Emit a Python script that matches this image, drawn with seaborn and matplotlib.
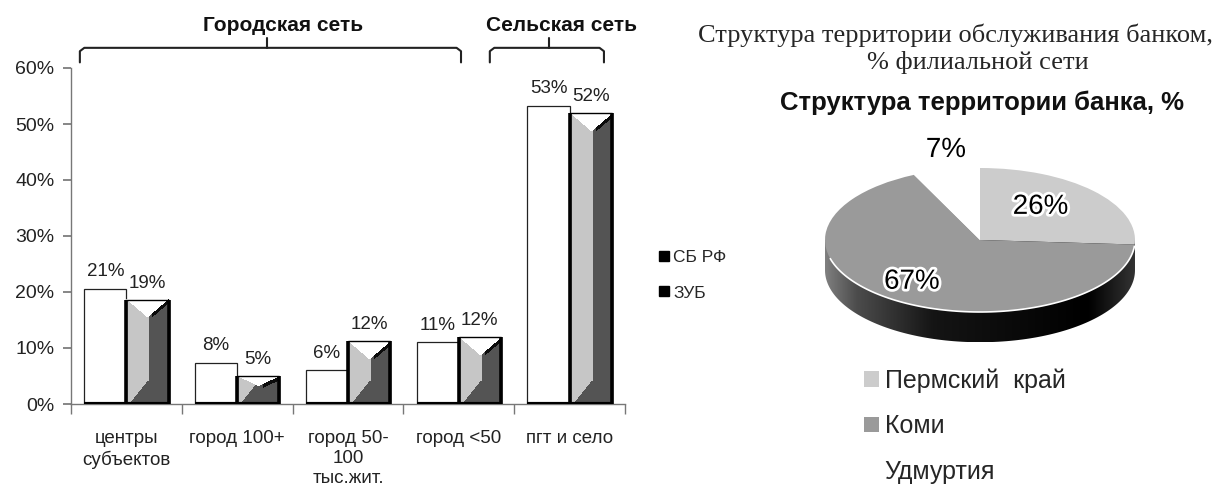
import numpy as np
import pandas as pd
import matplotlib
matplotlib.use("Agg")
import matplotlib.pyplot as plt
import seaborn as sns
from matplotlib.lines import Line2D
from matplotlib.patches import PathPatch
from matplotlib.path import Path
import matplotlib.patheffects as pe

# bar chart data
categories = ["центры\nсубъектов", "город 100+", "город 50-\n100\nтыс.жит.", "город <50", "пгт и село"]
series = ["СБ РФ", "ЗУБ"]
sb_rf = [20.6, 7.4, 6.1, 11.0, 53.3]
zub = [18.6, 5.0, 11.2, 11.9, 51.9]
sb_rf_labels = ["21%", "8%", "6%", "11%", "53%"]
zub_labels = ["19%", "5%", "12%", "12%", "52%"]

# pie data
regions = ["Пермский  край", "Коми", "Удмуртия"]
region_share = [26, 67, 7]
region_labels = ["26%", "67%", "7%"]
region_colors = ["#cccccc", "#9a9a9a", "#ffffff"]

sns.set_theme(style="white")
plt.rcParams["font.family"] = ["Liberation Sans", "DejaVu Sans"]

W, H = 1217, 486
fig = plt.figure(figsize=(W / 100, H / 100), dpi=100)


def box(x0, y0, x1, y1):
    return [x0 / W, 1 - y1 / H, (x1 - x0) / W, (y1 - y0) / H]


# ---- left: bars ----
ax = fig.add_axes(box(71, 68, 625, 404))
df = pd.DataFrame({
    "cat": categories * 2,
    "series": [series[0]] * len(categories) + [series[1]] * len(categories),
    "val": sb_rf + zub,
})
sns.barplot(data=df, x="cat", y="val", hue="series", palette=["white", "white"],
            width=0.76, gap=0, edgecolor="black", linewidth=1, legend=False, ax=ax)
ax.set_xlim(-0.5, len(categories) - 0.5)
ax.set_ylim(0, 60)
fig.canvas.draw()

for bar in ax.containers[0]:
    bar.set_edgecolor("#222222")
    bar.set_linewidth(0.9)

# shaded look for the second series
for bar in ax.containers[1]:
    x, w, h = bar.get_x(), bar.get_width(), bar.get_height()
    (px0, py0), (px1, py1) = ax.transData.transform([(x, 0), (x + w, h)])
    rows, cols = max(int(round(py1 - py0)), 2), max(int(round(px1 - px0)), 2)
    r = np.arange(rows)[:, None] + 0.5
    u = (np.arange(cols)[None, :] + 0.5) / cols
    bd = rows - r
    split = 0.53 - 0.45 * np.clip((24 - bd) / 24, 0, 1)
    img = np.where(u < split, 0.78, 0.33)
    t = min(18, 0.35 * rows)
    vline = t * (1 - 2 * np.abs(u - 0.5))
    img = np.where((u > 0.6) & (r >= vline) & (r < vline + 4), 0.05, img)
    img = np.where(r < vline, 1.0, img)
    ax.imshow(np.dstack([img] * 3), extent=(x, x + w, 0, h), aspect="auto",
              interpolation="nearest", zorder=1.5)
    bar.set_facecolor("none")
    bar.set_zorder(3)
    ax.vlines([x, x + w], 0, h, color="black", lw=2.6, zorder=3.5)

for bar in list(ax.containers[0]) + list(ax.containers[1]):
    ax.hlines(0, bar.get_x(), bar.get_x() + bar.get_width(), color="black", lw=3, zorder=4)

ax.set_xlim(-0.5, len(categories) - 0.5)
ax.set_ylim(0, 60)
ax.bar_label(ax.containers[0], labels=sb_rf_labels, padding=6, fontsize=13.5, color="#222222")
ax.bar_label(ax.containers[1], labels=zub_labels, padding=6, fontsize=13.5, color="#222222")

ax.set_yticks(range(0, 61, 10))
ax.set_yticklabels([f"{v}%" for v in range(0, 61, 10)], fontsize=14, color="#222222")
ax.set_xticks(range(len(categories)))
ax.set_xticklabels(categories, fontsize=13.5, linespacing=1.2, color="#222222")
ax.set_xticks(np.arange(-0.5, len(categories)), minor=True)
ax.tick_params(axis="x", which="major", length=0, pad=19)
ax.tick_params(axis="x", which="minor", length=7, direction="out", color="#777777", bottom=True)
ax.tick_params(axis="y", length=6, direction="out", color="#777777", left=True, pad=6)
ax.set_xlabel("")
ax.set_ylabel("")
for s in ["top", "right"]:
    ax.spines[s].set_visible(False)
for s in ["left", "bottom"]:
    ax.spines[s].set_color("#777777")
    ax.spines[s].set_linewidth(1)


def brace(x0, x1, xc, xt, text):
    kw = dict(color="#222222", lw=1.5, clip_on=False, solid_capstyle="round")
    ax.plot([x0, x0, x0 + 0.04, x1 - 0.04, x1, x1],
            [61.0, 63.0, 63.6, 63.6, 63.0, 61.0], **kw)
    ax.plot([xc, xc], [63.6, 65.4], **kw)
    ax.text(xt, 67.6, text, ha="center", va="center", fontsize=15, weight="bold", color="#111111")


brace(-0.42, 3.02, 1.27, 1.41, "Городская сеть")
brace(3.28, 4.31, 3.81, 3.93, "Сельская сеть")

handles = [Line2D([], [], marker="s", ls="", color="black", markersize=7) for _ in series]
fig.legend(handles, series, loc="center left", bbox_to_anchor=(641 / W, 1 - 275 / H),
           frameon=False, fontsize=12.5, handletextpad=0.05, labelspacing=1.2, handlelength=0.9)

# ---- right: pie ----
pax = fig.add_axes(box(825, 168, 1135, 348))
d = 0.42
grad_u = np.linspace(0, 1, 300)
grad = np.interp(grad_u, [0, 0.1, 0.35, 0.85, 1], [0.5, 0.3, 0.08, 0.0, 0.2])
side = pax.imshow(np.dstack([np.tile(grad, (10, 1))] * 3), extent=(-1, 1, -1 - d, 0),
                  aspect="auto", zorder=1)
th = np.linspace(np.pi, 2 * np.pi, 120)
verts = np.column_stack([np.cos(th), np.sin(th) - d])
verts = np.vstack([verts, [[1, 0], [-1, 0], [-1, -d]]])
clip = PathPatch(Path(verts), transform=pax.transData, facecolor="none", edgecolor="none")
pax.add_patch(clip)
side.set_clip_path(clip)

wedges, _ = pax.pie(region_share, colors=region_colors, startangle=90, counterclock=False,
                    radius=1, wedgeprops=dict(linewidth=0))
for wd in wedges:
    wd.set_zorder(2)
th = np.linspace(np.radians(195), np.radians(355), 100)
pax.plot(np.cos(th), np.sin(th), color="white", lw=1.2, zorder=2.5)
pax.set_aspect("auto")
pax.set_xlim(-1, 1)
pax.set_ylim(-1 - d - 0.08, 1)
pax.axis("off")

label_pos = [(0.39, 0.46), (-0.44, -0.58), (-0.22, 1.25)]
for (lx, ly), txt in zip(label_pos, region_labels):
    pax.text(lx, ly, txt, ha="center", va="center", fontsize=20, color="black", zorder=5,
             path_effects=[pe.withStroke(linewidth=4, foreground="white")], clip_on=False)

fig.legend(wedges, regions, loc="upper left", bbox_to_anchor=(841 / W, 1 - 346 / H),
           frameon=False, fontsize=18, handlelength=0.6, handleheight=0.6,
           handletextpad=0.25, labelspacing=0.85)

serif = ["Liberation Serif", "DejaVu Serif"]
fig.text(955 / W, 1 - 35 / H, "Структура территории обслуживания банком,",
         family=serif, fontsize=19, ha="center", va="center")
fig.text(978 / W, 1 - 62 / H, "% филиальной сети",
         family=serif, fontsize=19, ha="center", va="center")
fig.text(982 / W, 1 - 103 / H, "Структура территории банка, %",
         fontsize=18.5, weight="bold", ha="center", va="center", color="#111111")

fig.savefig("out.png", dpi=100)
